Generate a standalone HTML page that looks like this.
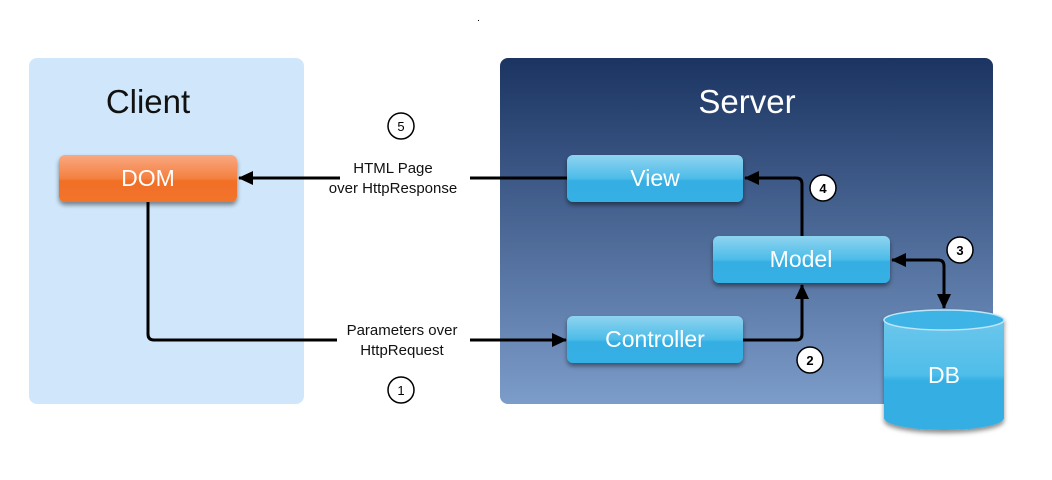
<!DOCTYPE html>
<html><head><meta charset="utf-8"><style>
html,body{margin:0;padding:0;background:#fff;width:1052px;height:480px;overflow:hidden}
svg text{font-family:"Liberation Sans",sans-serif}
</style></head><body>
<svg width="1052" height="480" viewBox="0 0 1052 480" xmlns="http://www.w3.org/2000/svg">
<defs>
<linearGradient id="srv" x1="0" y1="0" x2="0" y2="1"><stop offset="0" stop-color="#1b3462"/><stop offset="1" stop-color="#7c9cc9"/></linearGradient>
<linearGradient id="blue" x1="0" y1="0" x2="0" y2="1"><stop offset="0" stop-color="#8fd3f0"/><stop offset="0.5" stop-color="#4cbce8"/><stop offset="0.55" stop-color="#34aee3"/><stop offset="1" stop-color="#36b0e4"/></linearGradient>
<linearGradient id="orng" x1="0" y1="0" x2="0" y2="1"><stop offset="0" stop-color="#f9a882"/><stop offset="0.5" stop-color="#f48040"/><stop offset="0.55" stop-color="#f16f27"/><stop offset="1" stop-color="#f2742c"/></linearGradient>
<linearGradient id="cyl" x1="0" y1="0" x2="0" y2="1"><stop offset="0" stop-color="#6cc6ec"/><stop offset="0.5" stop-color="#4ebde9"/><stop offset="0.55" stop-color="#35afe3"/><stop offset="1" stop-color="#35afe3"/></linearGradient>
<filter id="sh" x="-10%" y="-20%" width="120%" height="160%"><feDropShadow dx="0" dy="3" stdDeviation="2.5" flood-color="#000" flood-opacity="0.45"/></filter>
<marker id="ar" markerWidth="16" markerHeight="14" refX="14" refY="7" orient="auto" markerUnits="userSpaceOnUse"><path d="M0,0 L15,7 L0,14 z" fill="#000"/></marker>
<marker id="ars" markerWidth="16" markerHeight="14" refX="1" refY="7" orient="auto" markerUnits="userSpaceOnUse"><path d="M15,0 L0,7 L15,14 z" fill="#000"/></marker>
</defs>
<rect x="29" y="58" width="275" height="346" rx="8" fill="#d0e7fb"/>
<rect x="500" y="58" width="493" height="346" rx="8" fill="url(#srv)"/>
<text x="148" y="113" font-size="33" text-anchor="middle" fill="#111">Client</text>
<text x="747" y="113" font-size="33" text-anchor="middle" fill="#fff">Server</text>

<g stroke="#000" stroke-width="3" fill="none">
<path d="M340,178 L239,178" marker-end="url(#ar)"/>
<path d="M567,178 L470,178"/>
<path d="M148,202 L148,334 Q148,340 154,340 L337,340"/>
<path d="M470,340 L566,340" marker-end="url(#ar)"/>
<path d="M743,340 L796,340 Q802,340 802,334 L802,285" marker-end="url(#ar)"/>
<path d="M802,236 L802,184 Q802,178 796,178 L745,178" marker-end="url(#ar)"/>
<path d="M892,260 L938,260 Q944,260 944,266 L944,308" marker-start="url(#ars)" marker-end="url(#ar)"/>
</g>

<g filter="url(#sh)">
<rect x="59" y="155" width="178" height="47" rx="6" fill="url(#orng)"/>
<rect x="567" y="155" width="176" height="47" rx="6" fill="url(#blue)"/>
<rect x="713" y="236" width="177" height="47" rx="6" fill="url(#blue)"/>
<rect x="567" y="316" width="176" height="47" rx="6" fill="url(#blue)"/>
</g>
<g filter="url(#sh)">
<path d="M884,320 L884,418 A60,12 0 0 0 1004,418 L1004,320 Z" fill="url(#cyl)"/>
<ellipse cx="944" cy="320" rx="60" ry="10" fill="#3db3e6" stroke="#bfe6f7" stroke-width="1.5"/>
</g>
<g fill="#fff" font-size="23" text-anchor="middle">
<text x="148" y="186">DOM</text>
<text x="655" y="186">View</text>
<text x="801" y="267">Model</text>
<text x="655" y="347">Controller</text>
<text x="944" y="383">DB</text>
</g>
<g font-size="15" text-anchor="middle" fill="#111">
<text x="393" y="173">HTML Page</text>
<text x="393" y="193">over HttpResponse</text>
<text x="402" y="335">Parameters over</text>
<text x="402" y="355">HttpRequest</text>
</g>
<g stroke="#000" stroke-width="1.5" fill="#fff">
<circle cx="401" cy="126" r="13"/>
<circle cx="401" cy="390" r="13"/>
<circle cx="823" cy="188" r="13"/>
<circle cx="960" cy="250" r="13"/>
<circle cx="810" cy="360" r="13"/>
</g>
<g font-size="13" text-anchor="middle" fill="#000">
<text x="401" y="131">5</text>
<text x="401" y="395">1</text>
<text x="823" y="193" font-weight="bold">4</text>
<text x="960" y="255" font-weight="bold">3</text>
<text x="810" y="365" font-weight="bold">2</text>
</g>
<rect x="478" y="20" width="1" height="1" fill="#000"/>
</svg>
</body></html>
